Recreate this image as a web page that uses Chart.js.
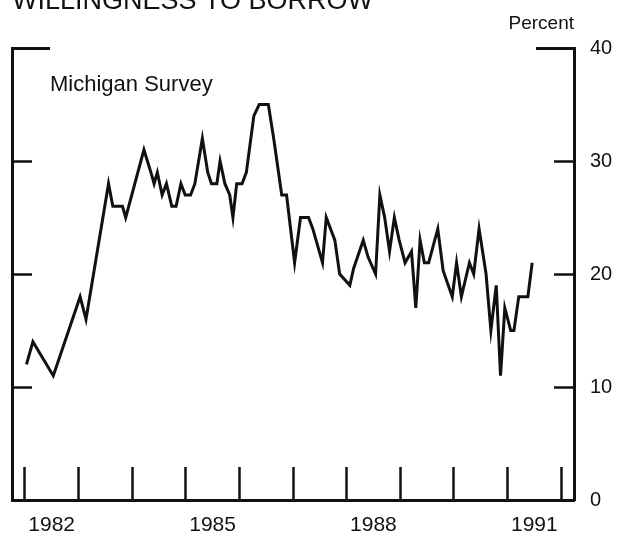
<!DOCTYPE html>
<html><head><meta charset="utf-8">
<script src="https://cdn.jsdelivr.net/npm/chart.js@4/dist/chart.umd.min.js"></script>
<style>
html,body{margin:0;padding:0;background:#fff;overflow:hidden}
#wrap{position:relative;width:629px;height:548px;margin-top:-12px}
</style></head><body>
<div id="wrap"><canvas id="c" width="629" height="548"></canvas></div>
<script>
// ---- data ----
const dates = [1982.03,1982.15,1982.53,1983.03,1983.14,1983.56,1983.64,1983.82,1983.88,1984.22,
  1984.35,1984.41,1984.47,1984.56,1984.64,1984.74,1984.82,1984.91,1984.99,1985.09,
  1985.17,1985.31,1985.41,1985.48,1985.58,1985.64,1985.73,1985.82,1985.88,1985.95,
  1986.05,1986.13,1986.27,1986.37,1986.54,1986.64,1986.79,1986.88,1987.03,1987.14,
  1987.29,1987.37,1987.55,1987.62,1987.78,1987.87,1988.06,1988.13,1988.31,1988.40,
  1988.54,1988.62,1988.71,1988.80,1988.89,1988.98,1989.09,1989.21,1989.29,1989.37,
  1989.45,1989.53,1989.70,1989.80,1989.97,1990.05,1990.14,1990.29,1990.37,1990.47,
  1990.60,1990.69,1990.79,1990.87,1990.95,1991.06,1991.12,1991.21,1991.38,1991.46];
const values = [12,14,11,18,16,28,26,26,25,31,
  29,28,29,27,28,26,26,28,27,27,
  28,32,29,28,28,30,28,27,25,28,
  28,29,34,35,35,32,27,27,21,25,
  25,24,21,25,23,20,19,20.5,23,21.5,
  20,27,25,22,25,23,21,22,17,23,
  21,21,24,20.3,18,21,18,21,20,24,
  20,15,19,11,17,15,15,18,18,21];
const yearTicks = [1982,1983,1984,1985,1986,1987,1988,1989,1990,1991,1992];
const labelYears = [1982,1985,1988,1991];
const yTickValues = [0,10,20,30,40];
const yInnerTicks = [10,20,30];
const yTopTick = [40];
const xMin = 1981.76, xMax = 1992.24;

const FONT = '"Liberation Sans", Arial, Helvetica, sans-serif';
const INK = '#111';

const textPlugin = {
  id: 'panelText',
  afterDraw(chart) {
    const {ctx, chartArea} = chart;
    ctx.save();
    ctx.fillStyle = INK;
    ctx.font = '22px ' + FONT;
    ctx.textBaseline = 'alphabetic';
    ctx.textAlign = 'left';
    ctx.fillText('Michigan Survey', chartArea.left + 38, chartArea.top + 43);
    ctx.restore();
  }
};

function setTicks(list) { return (scale) => { scale.ticks = list.map(v => ({value: v})); }; }
function fixSize(w, h) {
  return (s) => {
    if (w !== null) s.width = w;
    if (h !== null) s.height = h;
    s.paddingLeft = 0; s.paddingRight = 0; s.paddingTop = 0; s.paddingBottom = 0;
  };
}

new Chart(document.getElementById('c'), {
  type: 'line',
  data: {
    datasets: [{
      data: dates.map((d, i) => ({x: d, y: values[i]})),
      borderColor: INK, borderWidth: 3, pointRadius: 0, tension: 0,
      borderJoinStyle: 'miter', xAxisID: 'x', yAxisID: 'y'
    }]
  },
  options: {
    responsive: false, animation: false, devicePixelRatio: 1,
    layout: {padding: {left: 12, right: 0, top: 0, bottom: 0}},
    plugins: {
      legend: {display: false}, tooltip: {enabled: false},
      title: {display: true, text: 'WILLINGNESS TO BORROW', align: 'start', color: INK,
        font: {family: FONT, size: 27, weight: 'normal', lineHeight: 1.0}, padding: {top: 0, bottom: 0}},
      subtitle: {display: true, text: 'Percent', align: 'end', color: INK, fullSize: false,
        font: {family: FONT, size: 19, weight: 'normal', lineHeight: 0.9}, padding: {top: 0, bottom: 16}}
    },
    scales: {
      x: {
        type: 'linear', position: 'bottom', min: xMin, max: xMax, weight: 0,
        afterBuildTicks: setTicks(yearTicks.concat(labelYears.map(y => y + 0.5))),
        afterFit: fixSize(null, 36),
        grid: {drawOnChartArea: false, drawTicks: true, tickLength: -33, tickWidth: 2.5,
          tickColor: (c) => Number.isInteger(c.tick && c.tick.value) ? INK : 'rgba(0,0,0,0)'},
        border: {display: true, color: INK, width: 3},
        ticks: {autoSkip: false, maxRotation: 0, color: INK, padding: 46,
          font: {family: FONT, size: 21},
          callback: (v) => labelYears.includes(v - 0.5) ? String(v - 0.5) : ''}
      },
      y: {
        type: 'linear', position: 'right', min: 0, max: 40, weight: 1,
        afterBuildTicks: setTicks(yTickValues),
        afterFit: fixSize(55, null),
        grid: {drawOnChartArea: false, drawTicks: true, tickLength: -20, tickWidth: 2.5,
          tickColor: (c) => yInnerTicks.includes(c.tick && c.tick.value) ? INK : 'rgba(0,0,0,0)'},
        border: {display: true, color: INK, width: 3},
        ticks: {color: INK, padding: 36, font: {family: FONT, size: 20}, callback: (v) => String(v)}
      },
      yTopR: {
        type: 'linear', position: 'right', min: 0, max: 40, weight: 0,
        afterBuildTicks: setTicks(yTopTick),
        afterFit: fixSize(0, null),
        grid: {drawOnChartArea: false, drawTicks: true, tickLength: -38, tickWidth: 3, tickColor: INK},
        border: {display: false},
        ticks: {display: false}
      },
      yL: {
        type: 'linear', position: 'left', min: 0, max: 40, weight: 0,
        afterBuildTicks: setTicks(yInnerTicks),
        afterFit: fixSize(0, null),
        grid: {drawOnChartArea: false, drawTicks: true, tickLength: -20, tickWidth: 2.5, tickColor: INK},
        border: {display: true, color: INK, width: 3},
        ticks: {display: false}
      },
      yTopL: {
        type: 'linear', position: 'left', min: 0, max: 40, weight: 1,
        afterBuildTicks: setTicks(yTopTick),
        afterFit: fixSize(0, null),
        grid: {drawOnChartArea: false, drawTicks: true, tickLength: -38, tickWidth: 3, tickColor: INK},
        border: {display: false},
        ticks: {display: false}
      }
    }
  },
  plugins: [textPlugin]
});
</script>
</body></html>
